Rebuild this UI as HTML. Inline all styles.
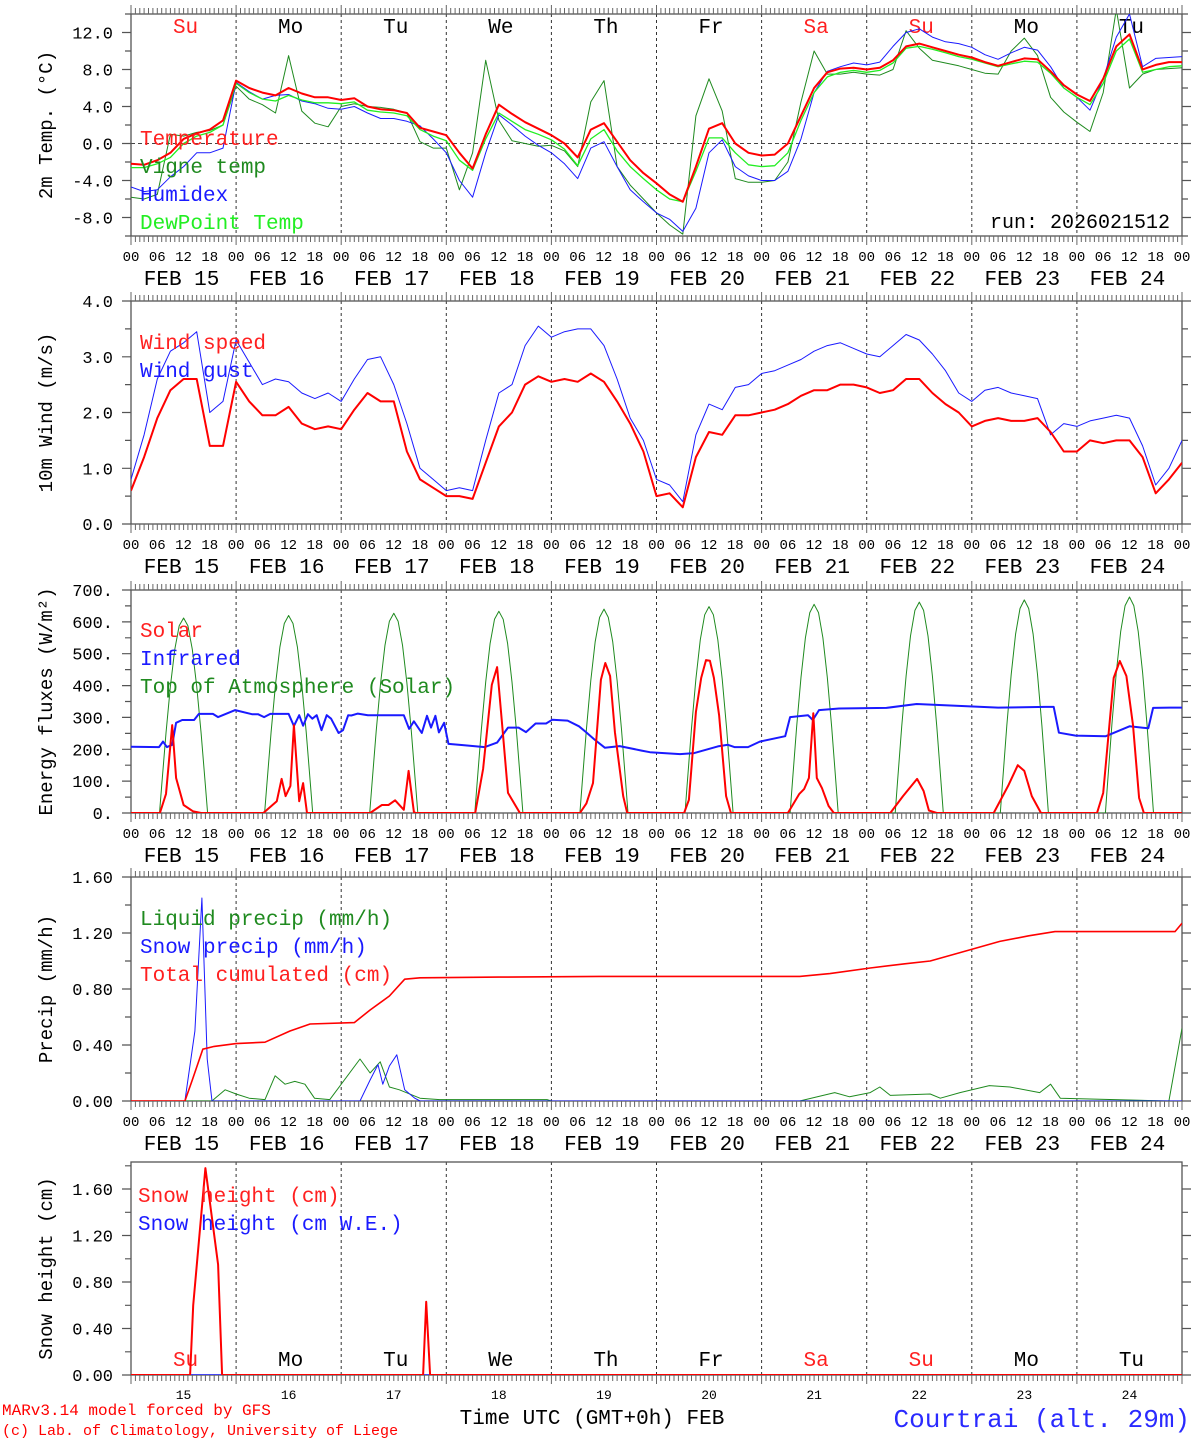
<!DOCTYPE html>
<html><head><meta charset="utf-8">
<style>
html,body{margin:0;padding:0;background:#fff;}
svg{display:block;font-family:"Liberation Mono","DejaVu Sans Mono",monospace;}
</style></head>
<body>
<svg id="chart" xmlns="http://www.w3.org/2000/svg" width="1194" height="1440" viewBox="0 0 1194 1440">
<defs>
<clipPath id="c1"><rect x="131" y="14" width="1051" height="222"/></clipPath>
<clipPath id="c2"><rect x="131" y="301" width="1051" height="223"/></clipPath>
<clipPath id="c3"><rect x="131" y="590" width="1051" height="223"/></clipPath>
<clipPath id="c4"><rect x="131" y="877" width="1051" height="224"/></clipPath>
<clipPath id="c5"><rect x="131" y="1162" width="1051" height="213"/></clipPath>
</defs>
<g id="root"></g>
<text x="2" y="1415" font-size="16" fill="#ff0000">MARv3.14 model forced by GFS</text>
<text x="2" y="1435" font-size="15" fill="#ff0000">(c) Lab. of Climatology, University of Liege</text>
<text x="592" y="1424" font-size="21" text-anchor="middle" fill="#000">Time UTC (GMT+0h) FEB</text>
<text x="1190" y="1427" font-size="26" text-anchor="end" fill="#2a2aff">Courtrai (alt. 29m)</text>
</svg>
<script>
// ---- data (3-hourly series start at 00 UTC Feb 15) ----
const dayNames = ["Su","Mo","Tu","We","Th","Fr","Sa","Su","Mo","Tu"];
const dayNums = ["15","16","17","18","19","20","21","22","23","24"];
const tempValues = [-2.2,-2.3,-1.8,-1.0,0.5,1.1,1.5,2.5,6.8,6.0,
5.5,5.2,6.0,5.4,5.0,5.0,4.7,4.9,4.0,3.7,
3.6,3.3,1.7,1.3,0.9,-1.0,-2.7,1.0,4.2,3.2,
2.3,1.6,0.9,0.0,-1.5,1.5,2.2,0.2,-1.8,-3.2,
-4.3,-5.5,-6.3,-2.5,1.6,2.2,0.0,-1.0,-1.3,-1.2,
0.0,3.0,6.0,7.7,8.1,8.2,8.0,8.2,9.0,10.5,
10.8,10.4,10.0,9.6,9.3,8.8,8.4,8.8,9.2,9.1,
7.8,6.3,5.3,4.6,7.0,10.5,11.8,8.0,8.5,8.8,8.8];
const vigneValues = [-5.8,-6.0,-5.5,1.0,0.8,1.2,1.4,2.0,6.2,4.8,
4.2,3.3,9.5,3.5,2.2,1.8,4.0,4.3,4.0,3.9,
3.7,3.3,0.2,-0.5,-0.5,-5.0,-1.0,9.0,2.5,0.3,
0.0,-0.3,-0.2,-0.8,-2.5,4.5,6.8,-2.5,-4.5,-6.0,
-7.5,-8.8,-9.8,3.0,7.0,3.5,-3.8,-4.2,-4.2,-4.0,
-2.0,4.5,10.0,7.5,7.5,7.7,7.5,7.4,8.0,12.2,
10.3,9.0,8.7,8.4,8.0,7.6,7.5,10.0,11.4,9.5,
5.0,3.4,2.3,1.3,5.5,14.5,6.0,7.5,8.0,8.1,8.2];
const humidexValues = [-4.7,-5.2,-5.0,-3.6,-2.5,-1.0,-1.0,-0.5,6.6,5.6,
4.8,5.2,5.3,4.6,4.3,3.8,3.7,4.0,3.3,2.7,
2.7,2.4,1.9,0.5,-1.0,-4.0,-5.8,-1.0,3.1,2.0,
0.8,-0.2,-1.0,-2.2,-3.8,-0.5,0.2,-2.5,-5.0,-6.3,
-7.5,-8.2,-9.5,-7.0,-1.0,0.4,-2.5,-3.5,-4.0,-4.0,
-3.0,0.5,5.5,7.8,8.3,8.7,8.5,8.8,10.5,12.0,
12.4,11.5,11.0,10.8,10.4,9.6,9.1,9.8,10.4,10.1,
8.3,6.0,5.0,3.6,7.0,11.5,14.0,8.3,9.2,9.3,9.4];
const dewValues = [-2.6,-2.6,-2.2,-1.5,0.0,0.8,1.2,2.0,6.5,5.5,
4.8,4.6,5.2,4.7,4.4,4.4,4.3,4.5,3.6,3.4,
3.3,3.0,1.5,0.8,0.3,-1.8,-2.9,0.5,3.3,2.4,
1.5,1.0,0.4,-0.6,-2.4,0.5,1.5,-0.8,-2.5,-3.8,
-5.0,-6.0,-6.3,-3.0,0.6,0.6,-1.0,-2.3,-2.5,-2.4,
-1.0,2.5,5.5,7.2,7.7,7.9,7.7,7.9,8.7,10.3,
10.5,10.2,9.8,9.4,9.1,8.7,8.3,8.6,8.9,8.8,
7.6,6.0,5.0,4.2,6.5,10.0,11.3,7.7,8.0,8.3,8.4];
const windValues = [0.6,1.2,1.9,2.4,2.6,2.6,1.4,1.4,2.55,2.2,
1.95,1.95,2.1,1.8,1.7,1.75,1.7,2.05,2.35,2.2,
2.2,1.3,0.8,0.65,0.5,0.5,0.45,1.1,1.75,2.0,
2.5,2.65,2.55,2.6,2.55,2.7,2.55,2.2,1.8,1.3,
0.5,0.55,0.3,1.2,1.65,1.6,1.95,1.95,2.0,2.05,
2.15,2.3,2.4,2.4,2.5,2.5,2.45,2.35,2.4,2.6,
2.6,2.35,2.15,2.0,1.75,1.85,1.9,1.85,1.85,1.9,
1.65,1.3,1.3,1.5,1.45,1.5,1.5,1.2,0.55,0.8,1.1];
const gustValues = [0.8,1.6,2.6,3.1,3.25,3.45,2.0,2.2,3.3,2.9,
2.5,2.6,2.55,2.35,2.25,2.35,2.2,2.6,2.95,3.0,
2.5,1.8,1.0,0.8,0.6,0.65,0.6,1.5,2.35,2.5,
3.2,3.55,3.35,3.45,3.5,3.5,3.2,2.6,1.9,1.5,
0.8,0.7,0.4,1.6,2.15,2.05,2.45,2.5,2.7,2.75,
2.85,2.95,3.1,3.2,3.25,3.15,3.05,3.0,3.2,3.4,
3.3,3.05,2.75,2.35,2.2,2.4,2.45,2.35,2.3,2.25,
1.6,1.8,1.75,1.85,1.9,1.95,1.9,1.4,0.7,1.0,1.5];
const solarHours = [0,6.6,8,9.4,10.3,12,14.2,16,
30.2,33.3,34.4,35.3,36.4,37.2,38.4,39.3,40.2,
54.6,57.3,58.8,60.3,62.3,63.4,64.6,65,
78.6,80.4,82.4,83.6,84.7,86.1,88.8,
102.5,104,105.5,107.3,108.3,109.4,110.5,112.4,113.3,
126.3,127.4,129,130.2,131.3,132.2,133.1,134.3,135.9,137,
150,152.6,153.7,154.8,155.8,156.6,157.8,159.3,160.5,
173.4,176.3,179.5,181,182.2,184,
197,200.3,202.5,204,205.7,207.8,
220.6,222,224.4,225.8,227.3,228.8,230.2,231.3,240];
const solarValues = [0,0,60,276,110,25,5,0,
0,37,107,53,85,276,37,94,0,
0,25,25,40,10,132,3,0,
0,138,402,458,286,63,0,
0,30,94,418,471,430,254,53,0,
0,41,317,424,480,478,424,307,53,0,
0,60,75,110,313,110,78,22,0,
0,53,107,69,8,0,
0,85,150,132,53,0,
0,63,424,477,430,276,47,0,0];
const irHours = [0,6.4,7.3,8.2,9.4,10.3,11.7,14.4,15.5,18.7,19.9,23.8,27.6,29,30.4,31.8,36,37.2,38.4,39.3,40.4,41.4,42.4,43.5,44.7,45.7,47.4,48.4,49.6,50.3,51.8,54.1,62.3,63.5,64.6,66.4,67.6,68.5,69.5,70.3,71.5,72.5,75.8,80.8,83.6,86.1,88.5,90.2,92.4,94.8,96.2,99.7,102.3,103.9,105.8,108.2,111.6,116.6,118.5,125.4,128.6,134,136.3,137.8,140.9,143.6,149.4,150.5,154.6,155.7,157.1,161.7,172.5,179.4,198,208.8,210.7,211.9,215.7,222.6,228,232.3,233.4,237.2,240];
const irValues = [208,207,224,207,214,283,292,292,311,311,301,323,310,310,301,311,311,273,307,274,310,296,307,260,307,296,251,260,307,306,312,307,307,264,288,251,305,268,305,253,283,217,213,207,221,268,268,254,281,281,293,290,272,254,231,205,210,196,191,185,188,209,214,207,207,224,241,301,307,292,323,328,330,342,331,333,333,252,243,241,272,266,330,331,331];
const toaHours = [];
for (let d = 0; d < 10; d++) { [6.5,7,8,9,10,11,12,13,14,15,16,17,17.5].forEach(h => toaHours.push(d*24+h)); }
const toaValues = [0,86,251,398,514,588,612,588,514,398,251,86,0,
0,87,254,403,521,595,620,595,521,403,254,87,0,
0,88,257,408,527,602,627,602,527,408,257,88,0,
0,89,260,411,532,608,633,608,532,411,260,89,0,
0,90,262,416,538,614,640,614,538,416,262,90,0,
0,91,266,421,544,622,648,622,544,421,266,91,0,
0,92,269,426,550,629,655,629,550,426,269,92,0,
0,93,271,430,556,636,662,636,556,430,271,93,0,
0,94,274,435,562,642,669,642,562,435,274,94,0,
0,95,278,441,570,651,678,651,570,441,278,95,0];
const cumHours = [0,12.3,14,16.4,19,24,30.6,36.3,40.9,51,54.6,59,62.5,66,84,107,152.7,159.6,168.8,176.7,182.5,189.3,198.4,205,211,238.4,240];
const cumValues = [0,0,0.15,0.37,0.39,0.41,0.42,0.5,0.55,0.56,0.65,0.75,0.87,0.88,0.885,0.89,0.89,0.91,0.95,0.98,1.0,1.06,1.14,1.18,1.21,1.21,1.27];
const snowPrHours = [0,12.3,14.6,16.2,17.4,18.5,52.3,54.6,56.4,57.5,59,60.7,62.5,64.8,66,240];
const snowPrValues = [0,0,0.5,1.45,0.3,0,0,0.15,0.26,0.12,0.25,0.33,0.08,0.02,0,0];
const liqHours = [0,18.5,19.2,21.5,24,27,30.6,32.9,35.2,37.4,39.7,41.9,45.4,52.3,54.6,56.9,59,61.3,66,70.5,95,96,152.7,160.7,164.1,168.8,171,173.4,182.5,184.8,189.3,196,200.7,207.5,210,212.2,237,240];
const liqValues = [0,0,0.02,0.08,0.05,0.02,0.01,0.18,0.12,0.14,0.12,0.02,0.01,0.3,0.2,0.28,0.1,0.08,0.02,0.01,0.01,0,0,0.06,0.03,0.06,0.1,0.04,0.05,0.02,0.06,0.11,0.1,0.06,0.12,0.02,0,0.52];
const snowHHours = [0,13.5,14.2,17,19.9,20.8,66.7,67.4,68.3,240];
const snowHValues = [0,0,0.6,1.78,0.95,0,0,0.63,0,0];
const sweValues = [0,0,0,0,0,0,0,0,0,0];

// ---- drawing ----
const NS = "http://www.w3.org/2000/svg";
const root = document.getElementById("root");
const X0 = 131, X1 = 1182;
function sx(t){ return X0 + t*(X1-X0)/240; }
function mk(tag, attrs, parent){
  const e = document.createElementNS(NS, tag);
  for (const k in attrs) e.setAttribute(k, attrs[k]);
  (parent||root).appendChild(e); return e;
}
function txt(s, x, y, size, color, anchor, parent){
  const e = mk("text", {x:x, y:y, "font-size":size, fill:color||"#000", "text-anchor":anchor||"start"}, parent);
  e.textContent = s; return e;
}
const panels = [
 {id:1, top:14, bottom:236, ymin:-10, ymax:14, ticks:[-8,-4,0,4,8,12], fmt:v=>v.toFixed(1), minor:2, title:"2m Temp. (°C)", hours:true},
 {id:2, top:301, bottom:524, ymin:0, ymax:4, ticks:[0,1,2,3,4], fmt:v=>v.toFixed(1), minor:0.5, title:"10m Wind (m/s)", hours:true},
 {id:3, top:590, bottom:813, ymin:0, ymax:700, ticks:[0,100,200,300,400,500,600,700], fmt:v=>v+".", minor:50, title:"Energy fluxes (W/m²)", hours:true},
 {id:4, top:877, bottom:1101, ymin:0, ymax:1.6, ticks:[0,0.4,0.8,1.2,1.6], fmt:v=>v.toFixed(2), minor:0.2, title:"Precip (mm/h)", hours:true},
 {id:5, top:1162, bottom:1375, ymin:0, ymax:213/116.25, ticks:[0,0.4,0.8,1.2,1.6], fmt:v=>v.toFixed(2), minor:0.2, title:"Snow height (cm)", hours:false}
];
panels.forEach(p => { p.sy = v => p.bottom - (v-p.ymin)/(p.ymax-p.ymin)*(p.bottom-p.top); });

panels.forEach(p => {
  const g = mk("g", {});
  
  
  for (let d = 1; d < 10; d++) {
    const l = mk("line", {x1:sx(d*24), x2:sx(d*24), y1:p.top, y2:p.bottom, stroke:"#333", "stroke-width":1, "stroke-dasharray":"3,3"}, g);
    
    
  }
  if (p.id === 1) {
    const z = mk("line", {x1:X0, x2:X1, y1:p.sy(0), y2:p.sy(0), stroke:"#444", "stroke-width":1, "stroke-dasharray":"4,3"}, g);
    
    
  }
  const fr = mk("rect", {x:X0, y:p.top, width:X1-X0, height:p.bottom-p.top, fill:"none", stroke:"#555", "stroke-width":1.3}, g);
  
  
  let dpath = "";
  for (let h = 0; h <= 240; h++) {
    const x = sx(h).toFixed(1);
    const len = (h % 24 === 0) ? 9 : 6;
    if (p.hours) dpath += `M${x} ${p.top}v${-len}`;
    dpath += `M${x} ${p.bottom}v${len}`;
  }
  const tk = mk("path", {d:dpath, stroke:"#666", "stroke-width":1, fill:"none"}, g);
  
  
  let ypath = "";
  for (let v = p.ymin; v <= p.ymax + 1e-6; v += p.minor) {
    const y = p.sy(v).toFixed(1);
    const major = p.ticks.some(t => Math.abs(t - v) < 1e-6);
    const len = major ? 9 : 6;
    ypath += `M${X0} ${y}h${-len}M${X1} ${y}h${len}`;
  }
  const yt = mk("path", {d:ypath, stroke:"#555", "stroke-width":1.2, fill:"none"}, g);
  
  
  p.ticks.forEach(v => {
    const t = txt(p.fmt(v), 113, p.sy(v)+6, 17, "#000", "end", g);
    
    
  });
  const cy = (p.top + p.bottom)/2;
  const yt2 = mk("text", {x:0, y:0, "font-size":19, fill:"#000", "text-anchor":"middle", transform:`translate(52 ${cy}) rotate(-90)`}, g);
  yt2.textContent = p.title;
  
  
  if (p.hours) {
    for (let h = 0; h <= 240; h += 6) {
      const t = txt(String(h % 24).padStart(2,"0"), sx(h), p.bottom+25, 14, "#000", "middle", g);
      
      
    }
    for (let d = 0; d < 10; d++) {
      const t = txt("FEB " + dayNums[d], sx(d*24+12)-2, p.bottom+49, 21, "#000", "middle", g);
      
      
    }
  } else {
    for (let d = 0; d < 10; d++) {
      const t = txt(dayNums[d], sx(d*24+12), 1399, 13, "#000", "middle", g);
      
      
    }
  }
});

function dayLabels(p, y){
  dayNames.forEach((n, d) => {
    const red = (d === 0 || d === 6 || d === 7);
    const t = txt(n, sx(d*24+12)+2, y, 21, red ? "#ff2020" : "#000", "middle");
    
    
  });
}
dayLabels(panels[0], 33);
dayLabels(panels[4], 1366);

function series3h(p, vals, color, w, name){
  const pts = vals.map((v,i) => sx(i*3).toFixed(1)+","+p.sy(v).toFixed(1)).join(" ");
  const e = mk("polyline", {points:pts, fill:"none", stroke:color, "stroke-width":w, "stroke-linejoin":"round", "clip-path":`url(#c${p.id})`});
  
  
}
function seriesT(p, hrs, vals, color, w, name){
  const pts = vals.map((v,i) => sx(hrs[i]).toFixed(1)+","+p.sy(v).toFixed(1)).join(" ");
  const e = mk("polyline", {points:pts, fill:"none", stroke:color, "stroke-width":w, "stroke-linejoin":"round", "clip-path":`url(#c${p.id})`});
  
  
}
function legend(items, x, y0, dy){
  items.forEach((it, i) => {
    const t = txt(it[0], x, y0 + i*dy, 21, it[1], "start");
    
    
  });
}
const P = panels;
series3h(P[0], vigneValues, "#1f8a1f", 1, "vigne-temp-line");
series3h(P[0], humidexValues, "#1a1aff", 1, "humidex-line");
series3h(P[0], dewValues, "#22ee22", 1.3, "dewpoint-line");
series3h(P[0], tempValues, "#ff0000", 2, "temperature-line");
legend([["Temperature","#ff2020"],["Vigne temp","#1f8a1f"],["Humidex","#1a1aff"],["DewPoint Temp","#22ee22"]], 140, 145, 28);
const run = txt("run: 2026021512", 1170, 228, 20, "#000", "end");


series3h(P[1], gustValues, "#1a1aff", 1, "wind-gust-line");
series3h(P[1], windValues, "#ff0000", 2, "wind-speed-line");
legend([["Wind speed","#ff2020"],["Wind gust","#1a1aff"]], 140, 349, 28);
seriesT(P[2], toaHours, toaValues, "#1f8a1f", 1, "toa-solar-line");
seriesT(P[2], irHours, irValues, "#1a1aff", 2, "infrared-line");
seriesT(P[2], solarHours, solarValues, "#ff0000", 2, "solar-line");
legend([["Solar","#ff2020"],["Infrared","#1a1aff"],["Top of Atmosphere (Solar)","#1f8a1f"]], 140, 637, 28);
seriesT(P[3], liqHours, liqValues, "#1f8a1f", 1, "liquid-precip-line");
seriesT(P[3], snowPrHours, snowPrValues, "#1a1aff", 1, "snow-precip-line");
seriesT(P[3], cumHours, cumValues, "#ff0000", 1.6, "total-cumulated-line");
legend([["Liquid precip (mm/h)","#1f8a1f"],["Snow precip (mm/h)","#1a1aff"],["Total cumulated (cm)","#ff2020"]], 140, 925, 28);
seriesT(P[4], snowHHours, sweValues, "#1a1aff", 1.5, "snow-we-line");
seriesT(P[4], snowHHours, snowHValues, "#ff0000", 2, "snow-height-line");
legend([["Snow height (cm)","#ff2020"],["Snow height (cm W.E.)","#1a1aff"]], 138, 1202, 28);
</script>
</body></html>
